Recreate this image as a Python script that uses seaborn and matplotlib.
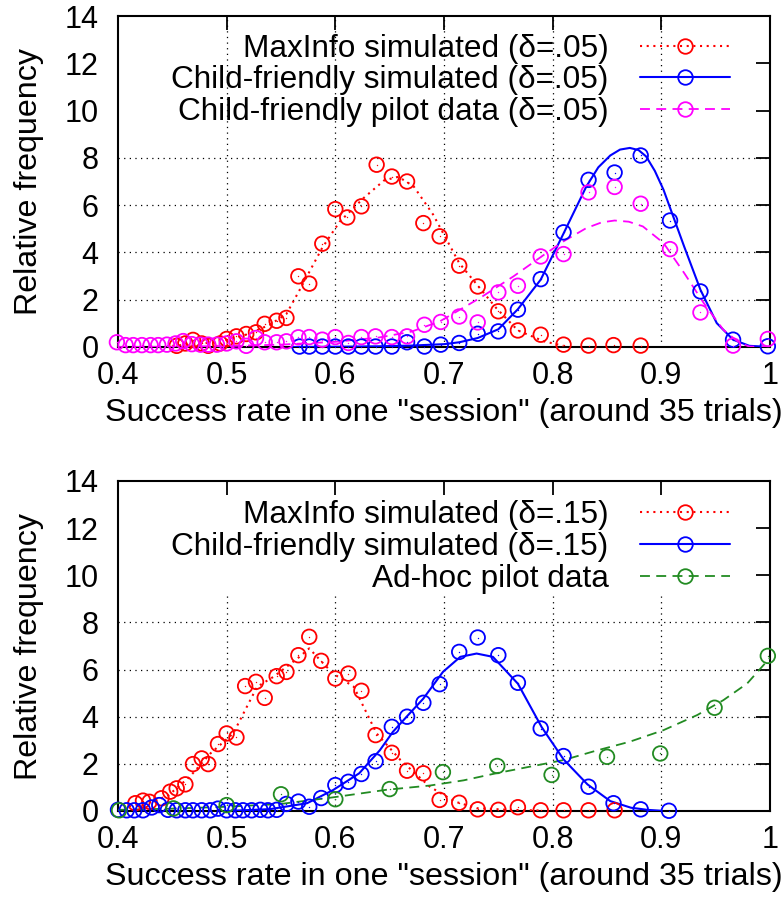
import numpy as np
import pandas as pd
import matplotlib
matplotlib.use("Agg")
import matplotlib.pyplot as plt
import seaborn as sns
from matplotlib.lines import Line2D

# ---------------- data ----------------
# Top panel (delta = .05)
top_max_x = [0.454, 0.462, 0.469, 0.477, 0.483, 0.494, 0.500, 0.509, 0.518, 0.527, 0.535, 0.546,
             0.555, 0.566, 0.576, 0.588, 0.600, 0.611, 0.624, 0.638, 0.652, 0.666, 0.681, 0.696,
             0.714, 0.731, 0.750, 0.768, 0.789, 0.810, 0.833, 0.856, 0.881]
top_max_y = [0.05, 0.15, 0.30, 0.15, 0.05, 0.15, 0.34, 0.45, 0.55, 0.62, 0.98, 1.11,
             1.23, 2.99, 2.68, 4.37, 5.83, 5.48, 5.95, 7.71, 7.21, 7.00, 5.24, 4.68,
             3.44, 2.56, 1.51, 0.70, 0.52, 0.10, 0.06, 0.08, 0.06]
top_max_fit_x = [0.45, 0.47, 0.49, 0.50, 0.52, 0.54, 0.555, 0.567, 0.588, 0.604, 0.626, 0.645,
                 0.658, 0.672, 0.690, 0.714, 0.731, 0.748, 0.768, 0.792, 0.810]
top_max_fit_y = [0.05, 0.12, 0.20, 0.30, 0.55, 0.95, 1.40, 2.40, 4.20, 5.30, 6.30, 7.05,
                 7.20, 6.80, 5.60, 3.55, 2.60, 1.65, 0.70, 0.24, 0.05]

top_cf_x = [0.567, 0.576, 0.588, 0.600, 0.612, 0.624, 0.637, 0.652, 0.666, 0.682, 0.697, 0.714,
            0.731, 0.750, 0.768, 0.789, 0.810, 0.833, 0.857, 0.881, 0.908, 0.936, 0.966, 0.998]
top_cf_y = [0.02, 0.02, 0.02, 0.02, 0.02, 0.02, 0.02, 0.02, 0.20, 0.02, 0.10, 0.17,
            0.56, 0.66, 1.58, 2.87, 4.85, 7.07, 7.38, 8.10, 5.35, 2.35, 0.31, 0.03]
top_cf_fit_x = [0.56, 0.60, 0.64, 0.67, 0.70, 0.714, 0.731, 0.75, 0.768, 0.789, 0.81, 0.831,
                0.842, 0.853, 0.862, 0.871, 0.879, 0.886, 0.894, 0.902, 0.921, 0.936, 0.951,
                0.966, 0.981, 1.0]
top_cf_fit_y = [0.0, 0.01, 0.03, 0.06, 0.12, 0.20, 0.38, 0.75, 1.60, 2.85, 4.80, 6.79,
                7.60, 8.10, 8.35, 8.42, 8.33, 8.06, 7.45, 6.65, 4.25, 2.42, 1.01,
                0.31, 0.05, 0.0]

top_pilot_x = [0.399, 0.407, 0.414, 0.422, 0.430, 0.437, 0.445, 0.453, 0.460, 0.468, 0.476, 0.483,
               0.491, 0.500, 0.509, 0.518, 0.527, 0.535, 0.546, 0.555, 0.566, 0.576, 0.588, 0.600,
               0.612, 0.624, 0.637, 0.652, 0.666, 0.682, 0.697, 0.714, 0.731, 0.750, 0.768, 0.789,
               0.810, 0.833, 0.857, 0.881, 0.908, 0.936, 0.966, 0.998]
top_pilot_y = [0.20, 0.08, 0.08, 0.08, 0.08, 0.08, 0.10, 0.15, 0.25, 0.12, 0.10, 0.10,
               0.10, 0.15, 0.24, 0.05, 0.38, 0.20, 0.20, 0.24, 0.41, 0.42, 0.31, 0.42,
               0.17, 0.42, 0.45, 0.42, 0.45, 0.94, 1.06, 1.29, 1.04, 2.31, 2.59, 3.83,
               3.93, 6.54, 6.77, 6.06, 4.14, 1.46, 0.06, 0.34]
top_pilot_fit_x = [0.40, 0.45, 0.50, 0.55, 0.60, 0.64, 0.67, 0.696, 0.733, 0.764, 0.792, 0.81,
                   0.831, 0.845, 0.857, 0.870, 0.883, 0.902, 0.921, 0.939, 0.957, 0.972, 0.981, 1.0]
top_pilot_fit_y = [0.0, 0.01, 0.04, 0.10, 0.22, 0.40, 0.65, 1.08, 2.07, 2.99, 3.90, 4.47,
                   5.03, 5.27, 5.35, 5.30, 5.10, 4.40, 3.13, 1.86, 0.73, 0.17, 0.02, 0.0]

# Bottom panel (delta = .15)
bot_max_x = [0.416, 0.423, 0.429, 0.440, 0.448, 0.454, 0.462, 0.469, 0.477, 0.483, 0.492, 0.500,
             0.509, 0.517, 0.527, 0.535, 0.546, 0.555, 0.566, 0.576, 0.587, 0.600, 0.612, 0.624,
             0.637, 0.652, 0.666, 0.681, 0.696, 0.714, 0.731, 0.750, 0.768, 0.789, 0.810, 0.833,
             0.857]
bot_max_y = [0.33, 0.44, 0.39, 0.54, 0.82, 0.96, 1.13, 1.99, 2.23, 1.99, 2.84, 3.29,
             3.12, 5.30, 5.48, 4.80, 5.72, 5.90, 6.61, 7.39, 6.37, 5.62, 5.83, 5.10,
             3.22, 2.47, 1.71, 1.60, 0.47, 0.35, 0.07, 0.05, 0.16, 0.03, 0.03, 0.03,
             0.03]
bot_max_fit_x = [0.41, 0.42, 0.445, 0.466, 0.485, 0.506, 0.528, 0.543, 0.567, 0.576, 0.586, 0.598,
                 0.617, 0.638, 0.66, 0.687, 0.71, 0.73, 0.76, 0.79]
bot_max_fit_y = [0.20, 0.30, 0.61, 1.45, 2.44, 3.29, 5.27, 5.69, 6.54, 6.90, 6.40, 5.83,
                 5.27, 3.29, 2.16, 1.03, 0.40, 0.12, 0.05, 0.02]

bot_cf_x = [0.400, 0.408, 0.415, 0.423, 0.431, 0.438, 0.446, 0.454, 0.462, 0.469, 0.477, 0.485,
            0.492, 0.500, 0.508, 0.515, 0.523, 0.531, 0.538, 0.546, 0.555, 0.566, 0.576, 0.587,
            0.600, 0.612, 0.624, 0.637, 0.652, 0.666, 0.681, 0.696, 0.714, 0.731, 0.750, 0.768,
            0.789, 0.810, 0.833, 0.856, 0.881, 0.907]
bot_cf_y = [0.05, 0.03, 0.03, 0.03, 0.15, 0.25, 0.05, 0.03, 0.03, 0.03, 0.03, 0.03,
            0.10, 0.03, 0.03, 0.03, 0.03, 0.05, 0.03, 0.05, 0.30, 0.40, 0.18, 0.55,
            1.10, 1.24, 1.57, 2.11, 3.57, 4.00, 4.59, 5.38, 6.75, 7.36, 6.61, 5.44,
            3.50, 2.33, 1.03, 0.33, 0.07, 0.01]
bot_cf_fit_x = [0.50, 0.54, 0.574, 0.598, 0.622, 0.641, 0.653, 0.667, 0.681, 0.699, 0.715, 0.730,
                0.745, 0.768, 0.790, 0.810, 0.832, 0.853, 0.872, 0.887, 0.90]
bot_cf_fit_y = [0.0, 0.08, 0.33, 0.89, 1.60, 2.58, 3.36, 4.07, 4.77, 5.90, 6.54, 6.68,
                6.54, 5.40, 3.55, 2.19, 1.13, 0.42, 0.14, 0.05, 0.01]

bot_pilot_x = [0.401, 0.451, 0.500, 0.550, 0.600, 0.650, 0.699, 0.749, 0.799, 0.850, 0.899, 0.949, 0.998]
bot_pilot_y = [0.03, 0.11, 0.25, 0.71, 0.50, 0.93, 1.65, 1.91, 1.53, 2.30, 2.44, 4.38, 6.58]
bot_pilot_fit_x = [0.40, 0.45, 0.50, 0.55, 0.598, 0.647, 0.687, 0.718, 0.748, 0.779, 0.810, 0.840,
                   0.871, 0.902, 0.933, 0.957, 0.979, 1.0]
bot_pilot_fit_y = [0.05, 0.10, 0.18, 0.30, 0.58, 0.90, 1.08, 1.30, 1.60, 1.88, 2.16, 2.56,
                   2.94, 3.43, 4.07, 4.70, 5.41, 6.50]

top_labels = ["MaxInfo simulated (δ=.05)", "Child-friendly simulated (δ=.05)",
              "Child-friendly pilot data (δ=.05)"]
bot_labels = ["MaxInfo simulated (δ=.15)", "Child-friendly simulated (δ=.15)",
              "Ad-hoc pilot data"]

x_ticks = [0.4, 0.5, 0.6, 0.7, 0.8, 0.9, 1.0]
x_tick_labels = ["0.4", "0.5", "0.6", "0.7", "0.8", "0.9", "1"]
y_ticks = [0, 2, 4, 6, 8, 10, 12, 14]
x_label = 'Success rate in one "session" (around 35 trials)'
y_label = "Relative frequency"

# ---------------- styling ----------------
sns.set_theme(style="white")
plt.rcParams['font.family'] = ['Liberation Sans', 'DejaVu Sans']
plt.rcParams['font.size'] = 22
plt.rcParams['axes.linewidth'] = 1.5
plt.rcParams['text.color'] = 'black'
plt.rcParams['axes.labelcolor'] = 'black'
plt.rcParams['xtick.color'] = 'black'
plt.rcParams['ytick.color'] = 'black'

RED, BLUE, MAG, GREEN = "#ff0000", "#0000ff", "#ff00ff", "#228b22"
STYLES = {
    "max": dict(color=RED, ls=(0, (1.0, 2.2)), lw=1.5),
    "cf": dict(color=BLUE, ls="-", lw=1.5),
    "pm": dict(color=MAG, ls=(0, (5.5, 3.5)), lw=1.3),
    "pg": dict(color=GREEN, ls=(0, (5.5, 3.5)), lw=1.3),
}
MS = 10.5  # marker size (points)
FS_LEG = 22.7
FS_LABEL = 23.2
FS_TICK = 22

fig = plt.figure(figsize=(7.83, 9.11), dpi=100)
ax_top = fig.add_axes([118 / 783, 1 - 347 / 911, 652 / 783, 331 / 911])
ax_bot = fig.add_axes([118 / 783, 1 - 811 / 911, 652 / 783, 330 / 911])


def draw_series(ax, px, py, fx, fy, key):
    st = STYLES[key]
    sns.lineplot(x=fx, y=fy, ax=ax, color=st["color"], linestyle=st["ls"],
                 linewidth=st["lw"], sort=False, estimator=None, zorder=3)
    sns.scatterplot(x=px, y=py, ax=ax, marker="o", s=MS ** 2, facecolor="none",
                    edgecolor=st["color"], linewidth=1.3, clip_on=False, zorder=4)
    sns.scatterplot(x=px, y=py, ax=ax, marker=".", s=4, color=st["color"],
                    linewidth=0, clip_on=False, zorder=4)


def setup_axes(ax, labels, keys, vgrid_top, leg_y):
    ax.set_xlim(0.4, 1.0)
    ax.set_ylim(0, 14)
    ax.set_xticks(x_ticks)
    ax.set_xticklabels(x_tick_labels)
    ax.set_yticks(y_ticks)
    ax.tick_params(axis="both", direction="in", length=10, width=1.3,
                   top=True, right=True, labelsize=FS_TICK, colors="black")
    ax.tick_params(axis="x", pad=10)
    ax.tick_params(axis="y", pad=14)
    for s in ax.spines.values():
        s.set_color("black")
        s.set_linewidth(1.5)
    # dotted grid
    for yv in [2, 4, 6, 8]:
        ax.axhline(yv, color="black", linestyle=(0, (1, 3.5)), linewidth=0.9, zorder=1)
    for xv in x_ticks[1:-1]:
        ax.axvline(xv, ymin=0, ymax=vgrid_top / 14, color="black",
                   linestyle=(0, (1, 3.5)), linewidth=0.9, zorder=1)
    ax.set_xlabel(x_label, fontsize=FS_LABEL, labelpad=5, color="black")
    ax.set_ylabel(y_label, fontsize=FS_LABEL, labelpad=15, color="black")
    handles = []
    for k, lab in zip(keys, labels):
        st = STYLES[k]
        handles.append(Line2D([], [], color=st["color"], linestyle=st["ls"],
                              linewidth=st["lw"], marker="o", markersize=MS,
                              markerfacecolor="none", markeredgecolor=st["color"],
                              markeredgewidth=1.3))
    leg = ax.legend(handles, labels, loc="upper right", bbox_to_anchor=(0.9387, leg_y),
                    frameon=False, markerfirst=False, handlelength=2.85,
                    handletextpad=1.0, labelspacing=0.05, borderpad=0,
                    borderaxespad=0, numpoints=1, fontsize=FS_LEG)
    for t in leg.get_texts():
        t.set_color("black")


draw_series(ax_top, top_max_x, top_max_y, top_max_fit_x, top_max_fit_y, "max")
draw_series(ax_top, top_cf_x, top_cf_y, top_cf_fit_x, top_cf_fit_y, "cf")
draw_series(ax_top, top_pilot_x, top_pilot_y, top_pilot_fit_x, top_pilot_fit_y, "pm")
setup_axes(ax_top, top_labels, ["max", "cf", "pm"], 14, 0.946)

draw_series(ax_bot, bot_max_x, bot_max_y, bot_max_fit_x, bot_max_fit_y, "max")
draw_series(ax_bot, bot_cf_x, bot_cf_y, bot_cf_fit_x, bot_cf_fit_y, "cf")
draw_series(ax_bot, bot_pilot_x, bot_pilot_y, bot_pilot_fit_x, bot_pilot_fit_y, "pg")
setup_axes(ax_bot, bot_labels, ["max", "cf", "pg"], 9.25, 0.941)

fig.savefig("out.png", dpi=100)
